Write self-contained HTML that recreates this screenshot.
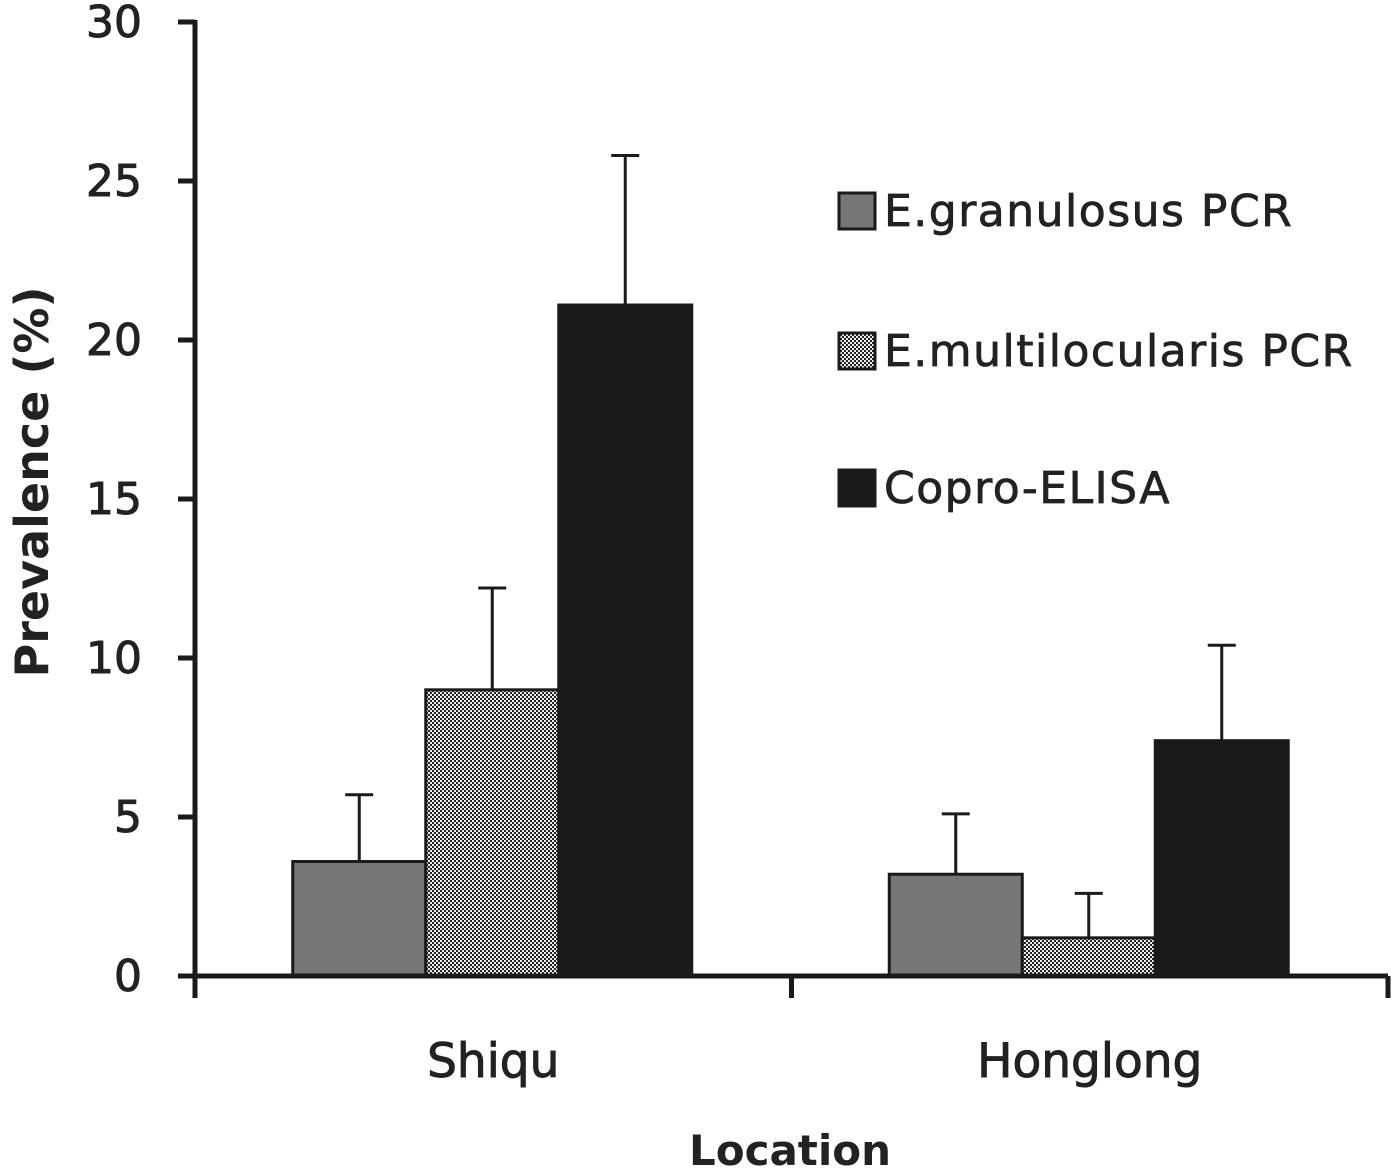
<!DOCTYPE html>
<html><head><meta charset="utf-8"><style>
html,body{margin:0;padding:0;background:#fff;}
svg{display:block;font-family:"DejaVu Sans","Liberation Sans",sans-serif;}
</style></head><body>
<svg id="chart" width="1400" height="1172" viewBox="0 0 1400 1172" xmlns="http://www.w3.org/2000/svg">
<defs>
<pattern id="dots" width="4" height="4" patternUnits="userSpaceOnUse">
<rect width="4" height="4" fill="#222"/>
<rect width="2" height="2" fill="#eee"/>
<rect x="2" y="2" width="2" height="2" fill="#eee"/>
</pattern>
</defs>
<g id="plot"></g>
</svg>
<script>
const categories = ["Shiqu", "Honglong"];
const seriesNames = ["E.granulosus PCR", "E.multilocularis PCR", "Copro-ELISA"];
const granulosus = [3.6, 3.2];
const multilocularis = [9.0, 1.2];
const elisa = [21.1, 7.4];
const granulosusErr = [5.7, 5.1];
const multilocularisErr = [12.2, 2.6];
const elisaErr = [25.8, 10.4];
const yTicks = [0, 5, 10, 15, 20, 25, 30];

const NS = "http://www.w3.org/2000/svg";
const g = document.getElementById("plot");
const x0 = 195, xEnd = 1388, yZero = 976, yTop = 22, yMax = 30;
const y = v => yZero - v * (yZero - yTop) / yMax;
const groupW = (xEnd - x0) / categories.length;
const barW = 133;
const fills = ["#777", "url(#dots)", "#1a1a1a"];
const vals = [granulosus, multilocularis, elisa];
const errs = [granulosusErr, multilocularisErr, elisaErr];
const keys = ["granulosus", "multilocularis", "elisa"];
function mk(tag, attrs, text) {
  const e = document.createElementNS(NS, tag);
  for (const k in attrs) e.setAttribute(k, attrs[k]);
  if (text !== undefined) e.textContent = text;
  g.appendChild(e);
  return e;
}
yTicks.forEach(t => {
  const tk = mk("line", {x1: 178, x2: x0, y1: y(t), y2: y(t), stroke: "#1a1a1a", "stroke-width": 5});
  
  
  const lb = mk("text", {x: 142, y: y(t) + 15, "text-anchor": "end", "font-size": 44, fill: "#222", stroke: "#222", "stroke-width": 1}, String(t));
  
  
});
categories.forEach((c, i) => {
  const cx = x0 + groupW * (i + 0.5);
  const start = cx - barW * 1.5 - 1;
  vals.forEach((arr, s) => {
    const bx = start + s * barW;
    const ex = bx + barW / 2;
    const el = mk("line", {x1: ex, x2: ex, y1: y(errs[s][i]), y2: y(arr[i]), stroke: "#1a1a1a", "stroke-width": 3});
    
    
    const cap = mk("line", {x1: ex - 14, x2: ex + 14, y1: y(errs[s][i]), y2: y(errs[s][i]), stroke: "#1a1a1a", "stroke-width": 3});
    
    
    const r = mk("rect", {x: bx, y: y(arr[i]), width: barW, height: yZero - y(arr[i]), fill: fills[s], stroke: "#1a1a1a", "stroke-width": 3});
    
    
  });
  const cl = mk("text", {x: cx, y: 1077, "text-anchor": "middle", "font-size": 47, fill: "#222", stroke: "#222", "stroke-width": 1}, c);
  
  
});
const ya = mk("line", {x1: x0, x2: x0, y1: yTop - 2, y2: yZero + 2, stroke: "#1a1a1a", "stroke-width": 5});


const xa = mk("line", {x1: x0 - 2, x2: xEnd, y1: yZero, y2: yZero, stroke: "#1a1a1a", "stroke-width": 5});


[x0, x0 + groupW, xEnd].forEach(tx => {
  const t = mk("line", {x1: tx, x2: tx, y1: yZero, y2: yZero + 22, stroke: "#1a1a1a", "stroke-width": 5});
  
  
});
const xt = mk("text", {x: 790, y: 1165, "text-anchor": "middle", "font-size": 42, "font-weight": "bold", fill: "#222"}, "Location");


const yt = mk("text", {x: 0, y: 0, "text-anchor": "middle", "font-size": 46, "font-weight": "bold", fill: "#222", transform: "translate(48,482) rotate(-90)"}, "Prevalence (%)");


const legY = [210, 350, 487];
seriesNames.forEach((n, s) => {
  const sw = mk("rect", {x: 839, y: legY[s] - 17, width: 36, height: 36, fill: fills[s], stroke: "#1a1a1a", "stroke-width": 3});
  
  
  const lt = mk("text", {x: 884, y: legY[s] + 16, "font-size": 44, "letter-spacing": 1.5, fill: "#222", stroke: "#222", "stroke-width": 0.8}, n);
  
  
});
</script>
</body></html>
